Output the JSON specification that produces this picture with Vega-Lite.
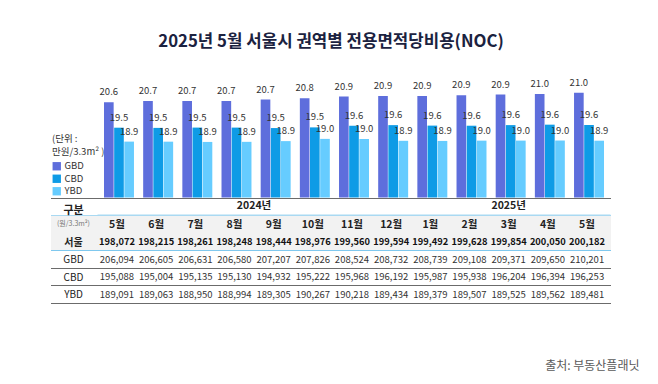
{
  "$schema": "https://vega.github.io/schema/vega-lite/v6.json",
  "width": 513,
  "height": 226.5,
  "autosize": {"type": "none"},
  "padding": {"left": 97.5, "top": 76, "right": 47.5, "bottom": 81.5},
  "background": "#ffffff",
  "config": {"font": "Noto Sans CJK KR", "view": {"stroke": null}},
  "title": {"text": "2025년 5월 서울시 권역별 전용면적당비용(NOC)", "fontSize": 16.8, "fontWeight": "bold", "color": "#1B2240", "offset": 20, "anchor": "middle", "dx": -23, "font": "Noto Sans CJK KR"},
  "datasets": {
    "noc": [
      {"m": "2024-05", "r": "서울", "won": 198072}, {"m": "2024-06", "r": "서울", "won": 198215}, {"m": "2024-07", "r": "서울", "won": 198261}, {"m": "2024-08", "r": "서울", "won": 198248}, {"m": "2024-09", "r": "서울", "won": 198444}, {"m": "2024-10", "r": "서울", "won": 198976}, {"m": "2024-11", "r": "서울", "won": 199560}, {"m": "2024-12", "r": "서울", "won": 199594}, {"m": "2025-01", "r": "서울", "won": 199492}, {"m": "2025-02", "r": "서울", "won": 199628}, {"m": "2025-03", "r": "서울", "won": 199854}, {"m": "2025-04", "r": "서울", "won": 200050}, {"m": "2025-05", "r": "서울", "won": 200182},
      {"m": "2024-05", "r": "GBD", "won": 206094, "manwon": 20.6094}, {"m": "2024-06", "r": "GBD", "won": 206605, "manwon": 20.6605}, {"m": "2024-07", "r": "GBD", "won": 206631, "manwon": 20.6631}, {"m": "2024-08", "r": "GBD", "won": 206580, "manwon": 20.658}, {"m": "2024-09", "r": "GBD", "won": 207207, "manwon": 20.7207}, {"m": "2024-10", "r": "GBD", "won": 207826, "manwon": 20.7826}, {"m": "2024-11", "r": "GBD", "won": 208524, "manwon": 20.8524}, {"m": "2024-12", "r": "GBD", "won": 208732, "manwon": 20.8732}, {"m": "2025-01", "r": "GBD", "won": 208739, "manwon": 20.8739}, {"m": "2025-02", "r": "GBD", "won": 209108, "manwon": 20.9108}, {"m": "2025-03", "r": "GBD", "won": 209371, "manwon": 20.9371}, {"m": "2025-04", "r": "GBD", "won": 209650, "manwon": 20.965}, {"m": "2025-05", "r": "GBD", "won": 210201, "manwon": 21.0201},
      {"m": "2024-05", "r": "CBD", "won": 195088, "manwon": 19.5088}, {"m": "2024-06", "r": "CBD", "won": 195004, "manwon": 19.5004}, {"m": "2024-07", "r": "CBD", "won": 195135, "manwon": 19.5135}, {"m": "2024-08", "r": "CBD", "won": 195130, "manwon": 19.513}, {"m": "2024-09", "r": "CBD", "won": 194932, "manwon": 19.4932}, {"m": "2024-10", "r": "CBD", "won": 195222, "manwon": 19.5222}, {"m": "2024-11", "r": "CBD", "won": 195968, "manwon": 19.5968}, {"m": "2024-12", "r": "CBD", "won": 196192, "manwon": 19.6192}, {"m": "2025-01", "r": "CBD", "won": 195987, "manwon": 19.5987}, {"m": "2025-02", "r": "CBD", "won": 195938, "manwon": 19.5938}, {"m": "2025-03", "r": "CBD", "won": 196204, "manwon": 19.6204}, {"m": "2025-04", "r": "CBD", "won": 196394, "manwon": 19.6394}, {"m": "2025-05", "r": "CBD", "won": 196253, "manwon": 19.6253},
      {"m": "2024-05", "r": "YBD", "won": 189091, "manwon": 18.9091}, {"m": "2024-06", "r": "YBD", "won": 189063, "manwon": 18.9063}, {"m": "2024-07", "r": "YBD", "won": 188950, "manwon": 18.895}, {"m": "2024-08", "r": "YBD", "won": 188994, "manwon": 18.8994}, {"m": "2024-09", "r": "YBD", "won": 189305, "manwon": 18.9305}, {"m": "2024-10", "r": "YBD", "won": 190267, "manwon": 19.0267}, {"m": "2024-11", "r": "YBD", "won": 190218, "manwon": 19.0218}, {"m": "2024-12", "r": "YBD", "won": 189434, "manwon": 18.9434}, {"m": "2025-01", "r": "YBD", "won": 189379, "manwon": 18.9379}, {"m": "2025-02", "r": "YBD", "won": 189507, "manwon": 18.9507}, {"m": "2025-03", "r": "YBD", "won": 189525, "manwon": 18.9525}, {"m": "2025-04", "r": "YBD", "won": 189562, "manwon": 18.9562}, {"m": "2025-05", "r": "YBD", "won": 189481, "manwon": 18.9481}
    ],
    "months": [
      {"m": "2024-05", "label": "5월"}, {"m": "2024-06", "label": "6월"}, {"m": "2024-07", "label": "7월"}, {"m": "2024-08", "label": "8월"}, {"m": "2024-09", "label": "9월"}, {"m": "2024-10", "label": "10월"}, {"m": "2024-11", "label": "11월"}, {"m": "2024-12", "label": "12월"}, {"m": "2025-01", "label": "1월"}, {"m": "2025-02", "label": "2월"}, {"m": "2025-03", "label": "3월"}, {"m": "2025-04", "label": "4월"}, {"m": "2025-05", "label": "5월"}
    ]
  },
  "layer": [
    {
      "data": {"name": "noc"},
      "transform": [{"filter": "datum.r !== '서울'"}],
      "mark": {"type": "bar"},
      "encoding": {
        "x": {
          "field": "m", "type": "ordinal",
          "scale": {"domain": ["2024-05", "2024-06", "2024-07", "2024-08", "2024-09", "2024-10", "2024-11", "2024-12", "2025-01", "2025-02", "2025-03", "2025-04", "2025-05"], "paddingInner": 0.235, "paddingOuter": 0.166},
          "axis": null
        },
        "xOffset": {"field": "r", "type": "nominal", "scale": {"domain": ["GBD", "CBD", "YBD"], "paddingInner": 0.05}},
        "y": {"field": "manwon", "type": "quantitative", "scale": {"domain": [11.974, 21.737], "zero": false, "nice": false}, "axis": null},
        "y2": {"datum": 16.5},
        "color": {
          "field": "r", "type": "nominal",
          "scale": {"domain": ["GBD", "CBD", "YBD"], "range": ["#5E6EDC", "#0E9BE6", "#66CCFF"]},
          "legend": {"orient": "none", "legendX": -45.5, "legendY": 58, "title": ["(단위 :", "만원/3.3m² )"], "titleFontSize": 9.5, "titleLineHeight": 13, "titleFontWeight": "normal", "titleColor": "#333333", "titleFont": "Noto Sans CJK KR", "labelFontSize": 9.5, "labelColor": "#333333", "labelFont": "Noto Sans CJK KR", "symbolType": "square", "symbolSize": 70, "symbolStrokeWidth": 0, "padding": 0, "titlePadding": 5, "rowPadding": 1.5, "labelOffset": 3}
        }
      }
    },
    {
      "data": {"name": "noc"},
      "transform": [{"filter": "datum.r !== '서울'"}],
      "mark": {"type": "text", "dy": -10, "fontSize": 9.5, "color": "#333333", "baseline": "middle"},
      "encoding": {
        "x": {"field": "m", "type": "ordinal", "axis": null},
        "xOffset": {"field": "r", "type": "nominal"},
        "y": {"field": "manwon", "type": "quantitative", "scale": {"domain": [11.974, 21.737], "zero": false, "nice": false}, "axis": null},
        "text": {"field": "manwon", "type": "quantitative", "format": ".1f"}
      }
    },
    {
      "data": {"values": [{"r": "(원/3.3m²)"}]},
      "mark": {"type": "rule", "color": "#A9D9F2", "strokeWidth": 1.2},
      "encoding": {"y": {"field": "r", "type": "nominal", "bandPosition": 0, "scale": {"type": "band", "domain": ["구분", "(원/3.3m²)", "서울", "GBD", "CBD", "YBD"], "range": [121.5, 226.5], "paddingInner": 0, "paddingOuter": 0}, "axis": null}}
    },
    {
      "data": {"name": "noc"},
      "transform": [{"filter": "datum.r !== '서울'"}],
      "mark": {"type": "text", "fontSize": 9.5, "color": "#333333", "dx": -2, "dy": 1, "baseline": "middle"},
      "encoding": {
        "x": {"field": "m", "type": "ordinal", "axis": null},
        "y": {
          "field": "r", "type": "nominal",
          "scale": {"type": "band", "domain": ["구분", "(원/3.3m²)", "서울", "GBD", "CBD", "YBD"], "range": [121.5, 226.5], "paddingInner": 0, "paddingOuter": 0},
          "axis": {
            "orient": "left", "domain": false, "tickBand": "extent", "tickSize": 47, "grid": true,
            "title": "출처: 부동산플래닛", "titleAngle": 0, "titleAlign": "right", "titleBaseline": "middle", "titleX": 541.5, "titleY": 289, "titleFontSize": 12, "titleFontWeight": "normal", "titleColor": "#5a5a5a", "titleFont": "Noto Sans CJK KR",
            "tickColor": {"condition": [{"test": "datum.value === '구분'", "value": "#A9D9F2"}, {"test": "datum.value === '(원/3.3m²)'", "value": "#F2F2F2"}, {"test": "datum.value === '서울'", "value": "#7FC8EE"}], "value": "#6b6b6b"},
            "tickWidth": {"condition": {"test": "datum.value === '(원/3.3m²)'", "value": 35}, "value": 1.2},
            "gridColor": {"condition": [{"test": "datum.value === '구분'", "value": "#A9D9F2"}, {"test": "datum.value === '(원/3.3m²)'", "value": "#F2F2F2"}, {"test": "datum.value === '서울'", "value": "#7FC8EE"}], "value": "#6b6b6b"},
            "gridWidth": {"condition": {"test": "datum.value === '(원/3.3m²)'", "value": 35}, "value": 1.2},
            "gridOpacity": 1,
            "labelAlign": "center", "labelBaseline": "middle", "labelPadding": -22.5, "labelFont": "Noto Sans CJK KR",
            "labelFontSize": {"condition": [{"test": "datum.value === '구분'", "value": 11}, {"test": "datum.value === '(원/3.3m²)'", "value": 7}], "value": 10},
            "labelFontWeight": {"condition": {"test": "datum.value === '구분' || datum.value === '서울'", "value": "bold"}, "value": "normal"},
            "labelColor": {"condition": {"test": "datum.value === '(원/3.3m²)'", "value": "#777777"}, "value": "#222222"},
            "labelOffset": {"condition": [{"test": "datum.value === '구분'", "value": 4}, {"test": "datum.value === '(원/3.3m²)'", "value": 0}], "value": 1}
          }
        },
        "text": {"field": "won", "type": "quantitative", "format": ","}
      }
    },
    {
      "data": {"name": "noc"},
      "transform": [{"filter": "datum.r === '서울'"}],
      "mark": {"type": "text", "fontSize": 9.3, "fontWeight": "bold", "color": "#111111", "dx": -2, "dy": 1, "baseline": "middle"},
      "encoding": {
        "x": {"field": "m", "type": "ordinal", "axis": null},
        "y": {"field": "r", "type": "nominal", "scale": {"type": "band", "domain": ["구분", "(원/3.3m²)", "서울", "GBD", "CBD", "YBD"], "range": [121.5, 226.5], "paddingInner": 0, "paddingOuter": 0}, "axis": null},
        "text": {"field": "won", "type": "quantitative", "format": ","}
      }
    },
    {
      "data": {"name": "months"},
      "mark": {"type": "text", "fontSize": 10.5, "fontWeight": "bold", "color": "#222222", "dx": -2, "dy": 1, "baseline": "middle"},
      "encoding": {
        "x": {"field": "m", "type": "ordinal", "axis": null},
        "y": {"datum": "(원/3.3m²)", "type": "nominal", "scale": {"type": "band", "domain": ["구분", "(원/3.3m²)", "서울", "GBD", "CBD", "YBD"], "range": [121.5, 226.5], "paddingInner": 0, "paddingOuter": 0}, "axis": null},
        "text": {"field": "label", "type": "nominal"}
      }
    },
    {
      "data": {"values": [{"m": "2024-08", "t": "2024년"}]},
      "mark": {"type": "text", "fontSize": 10.5, "fontWeight": "bold", "color": "#222222", "dx": -2, "baseline": "middle"},
      "encoding": {
        "x": {"field": "m", "type": "ordinal", "bandPosition": 1.153, "axis": null},
        "y": {"datum": "구분", "type": "nominal", "scale": {"type": "band", "domain": ["구분", "(원/3.3m²)", "서울", "GBD", "CBD", "YBD"], "range": [121.5, 226.5], "paddingInner": 0, "paddingOuter": 0}, "axis": null},
        "text": {"field": "t", "type": "nominal"}
      }
    },
    {
      "data": {"values": [{"m": "2025-03", "t": "2025년"}]},
      "mark": {"type": "text", "fontSize": 10.5, "fontWeight": "bold", "color": "#222222", "dx": -2, "baseline": "middle"},
      "encoding": {
        "x": {"field": "m", "type": "ordinal", "axis": null},
        "y": {"datum": "구분", "type": "nominal", "scale": {"type": "band", "domain": ["구분", "(원/3.3m²)", "서울", "GBD", "CBD", "YBD"], "range": [121.5, 226.5], "paddingInner": 0, "paddingOuter": 0}, "axis": null},
        "text": {"field": "t", "type": "nominal"}
      }
    }
  ],
  "resolve": {"scale": {"y": "independent"}}
}
